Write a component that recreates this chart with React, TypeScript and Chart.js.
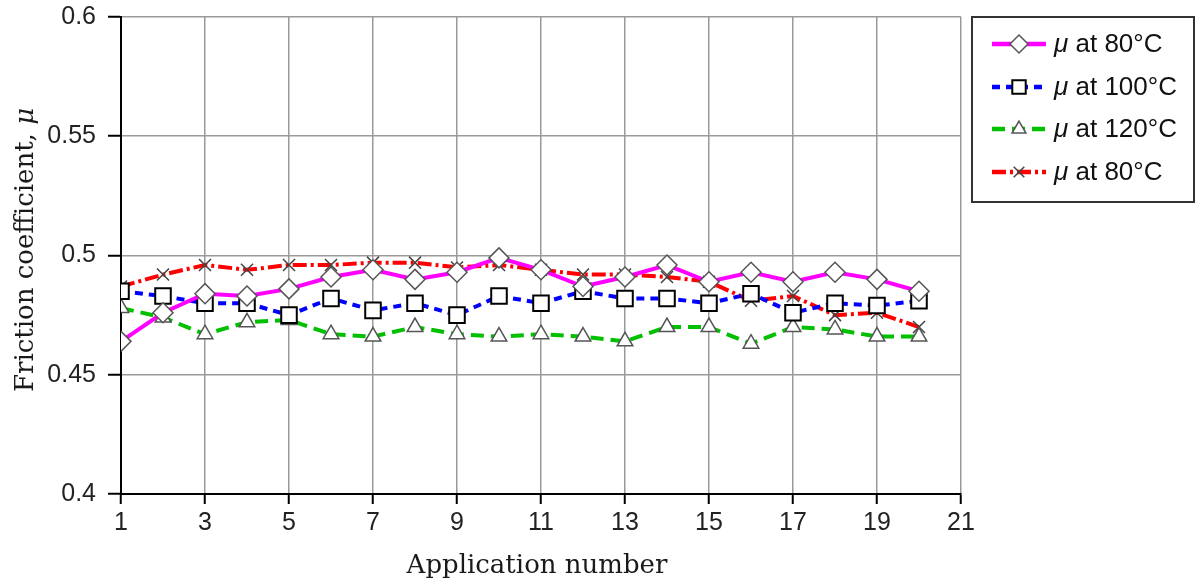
import React, { useEffect, useRef } from 'react';
import { Chart, registerables } from 'chart.js';
import { drawPoint } from 'chart.js/helpers';

Chart.register(...registerables);

// ---- data ----
const applications = [1, 2, 3, 4, 5, 6, 7, 8, 9, 10, 11, 12, 13, 14, 15, 16, 17, 18, 19, 20];
const xTickValues = [1, 3, 5, 7, 9, 11, 13, 15, 17, 19, 21];
const yTickValues = [0.4, 0.45, 0.5, 0.55, 0.6];
const yTickLabels = ['0.4', '0.45', '0.5', '0.55', '0.6'];
const legendLabels = ['at 80°C', 'at 100°C', 'at 120°C', 'at 80°C'];

const mu80 = [0.464, 0.476, 0.484, 0.483, 0.486, 0.491, 0.494, 0.490, 0.493, 0.499, 0.494, 0.487, 0.491, 0.496, 0.489, 0.493, 0.489, 0.493, 0.490, 0.485];
const mu100 = [0.485, 0.483, 0.480, 0.480, 0.475, 0.482, 0.477, 0.480, 0.475, 0.483, 0.480, 0.485, 0.482, 0.482, 0.480, 0.484, 0.476, 0.480, 0.479, 0.481];
const mu120 = [0.478, 0.474, 0.467, 0.472, 0.473, 0.467, 0.466, 0.470, 0.467, 0.466, 0.467, 0.466, 0.464, 0.470, 0.470, 0.463, 0.470, 0.469, 0.466, 0.466];
const mu80b = [0.487, 0.492, 0.496, 0.494, 0.496, 0.496, 0.497, 0.497, 0.495, 0.496, 0.494, 0.492, 0.492, 0.491, 0.489, 0.481, 0.483, 0.475, 0.476, 0.470];

const W = 1197;
const H = 583;

const seriesStyles = [
  { values: mu80, color: '#ff00ff', dash: [] as number[], pointStyle: 'rectRot', radius: 10, pBorder: '#555', pWidth: 1.5, lRadius: 9 },
  { values: mu100, color: '#0000ff', dash: [8, 6], pointStyle: 'rect', radius: 11, pBorder: '#000', pWidth: 2, lRadius: 9.5 },
  { values: mu120, color: '#00c000', dash: [13, 7], pointStyle: 'triangle', radius: 9, pBorder: '#555', pWidth: 1.5, lRadius: 8 },
  { values: mu80b, color: '#ff0000', dash: [14, 4, 3, 4], pointStyle: 'crossRot', radius: 8.5, pBorder: '#444', pWidth: 1.5, lRadius: 7.5 },
];

const overlayPlugin = {
  id: 'overlay',
  afterDraw(chart: any) {
    const ctx: CanvasRenderingContext2D = chart.ctx;
    ctx.save();
    ctx.fillStyle = '#1a1a1a';
    // x title
    ctx.font = '26px "DejaVu Serif"';
    ctx.textAlign = 'center';
    ctx.textBaseline = 'alphabetic';
    const area = chart.chartArea;
    ctx.fillText('Application number', (area.left + area.right) / 2 - 4, 573);
    // y title
    ctx.save();
    ctx.translate(33, 392);
    ctx.rotate(-Math.PI / 2);
    ctx.textAlign = 'left';
    ctx.font = '26px "DejaVu Serif"';
    const main = 'Friction coefficient, ';
    ctx.fillText(main, 0, 0);
    const w = ctx.measureText(main).width;
    ctx.font = 'italic 26px "DejaVu Serif"';
    ctx.fillText('μ', w, 0);
    ctx.restore();

    // legend box
    ctx.strokeStyle = '#333';
    ctx.lineWidth = 2;
    ctx.setLineDash([]);
    ctx.strokeRect(972, 17, 222, 185);
    const rows = [44, 87, 129, 172];
    seriesStyles.forEach((s, i) => {
      const y = rows[i];
      ctx.save();
      ctx.strokeStyle = s.color;
      ctx.lineWidth = 4.5;
      ctx.setLineDash(s.dash);
      ctx.beginPath();
      ctx.moveTo(992, y);
      ctx.lineTo(1046, y);
      ctx.stroke();
      ctx.restore();
      ctx.save();
      ctx.setLineDash([]);
      ctx.fillStyle = '#fff';
      ctx.strokeStyle = s.pBorder;
      ctx.lineWidth = s.pWidth;
      drawPoint(ctx, { pointStyle: s.pointStyle as any, rotation: 0, radius: s.lRadius, borderWidth: s.pWidth }, 1019, y);
      ctx.restore();
      ctx.fillStyle = '#111';
      ctx.textAlign = 'left';
      ctx.textBaseline = 'middle';
      ctx.font = 'italic 26px "Liberation Sans"';
      ctx.fillText('μ', 1054, y + 1);
      const mw = ctx.measureText('μ').width;
      ctx.font = '26px "Liberation Sans"';
      ctx.fillText(' ' + legendLabels[i], 1054 + mw, y + 1);
    });
    ctx.restore();
  },
};

export default function App() {
  const ref = useRef<HTMLCanvasElement>(null);
  useEffect(() => {
    const datasets = seriesStyles.map((s, i) => ({
      label: 'μ ' + legendLabels[i],
      data: applications.map((a, j) => ({ x: a, y: s.values[j] })),
      borderColor: s.color,
      borderWidth: 4,
      borderDash: s.dash,
      pointStyle: s.pointStyle as any,
      pointRadius: s.radius,
      pointBackgroundColor: '#fff',
      pointBorderColor: s.pBorder,
      pointBorderWidth: s.pWidth,
      tension: 0,
      fill: false,
    }));
    const chart = new Chart(ref.current!, {
      type: 'line',
      data: { datasets },
      options: {
        responsive: false,
        animation: false,
        layout: { padding: { left: 0, right: 236, top: 17, bottom: 0 } },
        plugins: { legend: { display: false }, tooltip: { enabled: false } },
        scales: {
          x: {
            type: 'linear',
            min: 1,
            max: 21,
            afterBuildTicks: (s: any) => { s.ticks = xTickValues.map((v) => ({ value: v })); },
            afterFit: (s: any) => { s.height = 89; s.paddingLeft = 0; s.paddingRight = 0; },
            grid: { color: '#9a9a9a', lineWidth: 1.5, tickLength: 10, tickColor: '#000', tickWidth: 2 },
            border: { color: '#000', width: 2 },
            ticks: { font: { family: 'Liberation Sans', size: 25 }, color: '#222', padding: 4, maxRotation: 0, autoSkip: false },
          },
          y: {
            type: 'linear',
            min: 0.4,
            max: 0.6,
            afterBuildTicks: (s: any) => { s.ticks = yTickValues.map((v) => ({ value: v })); },
            afterFit: (s: any) => { s.width = 121; s.paddingTop = 0; s.paddingBottom = 0; },
            grid: { color: '#9a9a9a', lineWidth: 1.5, tickLength: 13, tickColor: '#000', tickWidth: 2 },
            border: { color: '#000', width: 2 },
            ticks: {
              font: { family: 'Liberation Sans', size: 25 },
              color: '#222',
              padding: 12,
              callback: (_v: any, i: number) => yTickLabels[i],
            },
          },
        },
      },
      plugins: [overlayPlugin],
    });
    return () => chart.destroy();
  }, []);
  return (
    <div style={{ position: 'absolute', left: 0, top: 0, width: W, height: H, background: '#fff' }}>
      <canvas ref={ref} width={W} height={H} />
    </div>
  );
}
